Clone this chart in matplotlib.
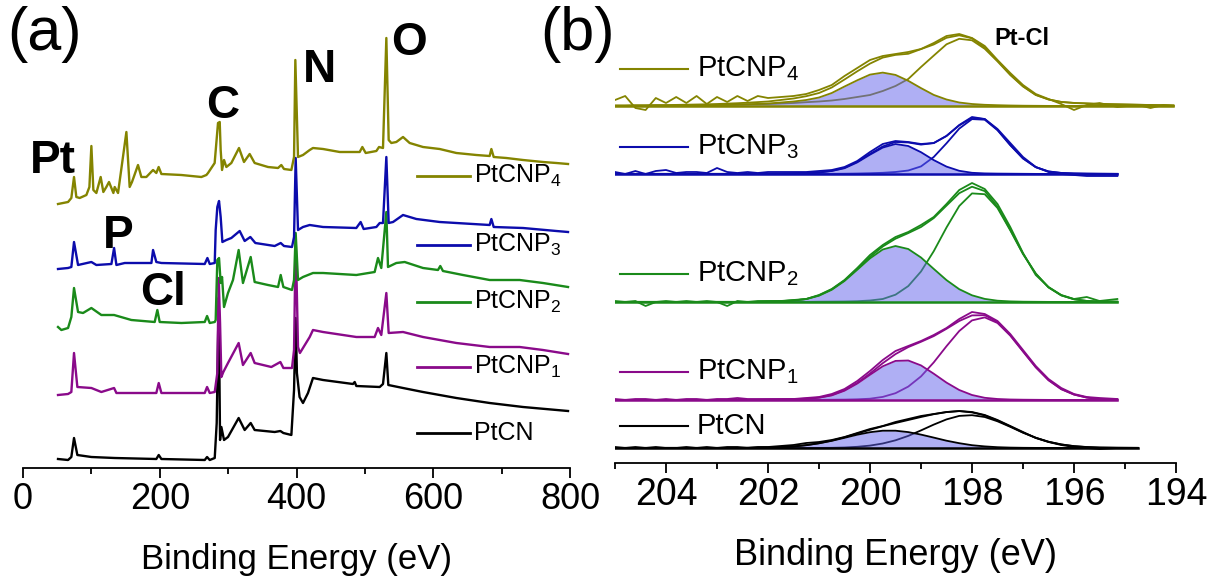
import numpy as np
import matplotlib
matplotlib.use("Agg")
import matplotlib.pyplot as plt
from matplotlib.ticker import MultipleLocator

plt.rcParams['font.family'] = ['Liberation Sans', 'DejaVu Sans']
plt.rcParams['mathtext.fontset'] = 'custom'
plt.rcParams['mathtext.rm'] = 'Liberation Sans'
plt.rcParams['mathtext.it'] = 'Liberation Sans'

# ---------------- (a) survey spectra: binding energy (eV) / intensity (a.u., stacked) ----------------
be_p4 = [51.2, 65.9, 70.7, 74.6, 78.0, 82.9, 92.7, 97.1, 100.0, 102.9, 107.3, 113.6, 117.5, 121.9, 125.8,
         132.2, 134.1, 139.0, 151.2, 156.0, 159.4, 168.2, 173.1, 180.4, 190.2, 195.0, 198.4, 202.4, 231.6,
         260.9, 268.2, 270.6, 280.3, 285.2, 287.7, 289.1, 291.1, 294.0, 297.4, 304.7, 315.9, 323.2, 331.5,
         338.8, 358.3, 373.0, 377.8, 381.7, 392.5, 396.4, 398.3, 402.2, 409.5, 419.3, 424.1, 438.8, 463.2,
         492.4, 496.3, 501.2, 516.8, 520.7, 526.5, 531.4, 534.8, 538.7, 546.0, 555.8, 565.5, 585.0, 609.4,
         633.8, 663.0, 682.5, 685.0, 688.4, 706.9, 731.3, 760.5, 780.0, 797.1]
i_p4 = [264, 266, 270, 291, 271, 270, 273, 281, 322, 278, 275, 291, 276, 281, 286,
        275, 281, 275, 336, 281, 286, 303, 291, 291, 298, 295, 301, 294, 293,
        291, 293, 295, 305, 345, 346, 318, 298, 308, 301, 305, 320, 306, 314,
        305, 301, 300, 303, 299, 298, 311, 408, 311, 313, 318, 320, 319, 316,
        316, 321, 315, 317, 321, 320, 430, 328, 325, 326, 331, 325, 321, 319,
        315, 313, 312, 319, 311, 310, 308, 306, 305, 304]

be_p3 = [51.2, 65.9, 70.7, 74.6, 80.5, 100.0, 107.3, 129.3, 133.2, 136.6, 148.8, 187.8, 190.2, 195.0, 202.4,
         265.8, 269.7, 273.1, 280.4, 281.8, 284.2, 286.7, 289.1, 291.6, 297.4, 304.7, 316.9, 324.2, 332.5,
         339.8, 368.1, 376.9, 381.7, 393.4, 396.4, 398.8, 402.2, 409.5, 419.3, 438.8, 487.5, 493.8, 498.2,
         516.8, 521.7, 526.5, 531.4, 534.8, 541.2, 555.8, 575.3, 609.4, 633.8, 682.5, 685.0, 688.4, 731.3,
         780.0, 797.1]
i_p3 = [199, 200, 201, 226, 203, 206, 203, 204, 220, 203, 205, 205, 218, 206, 205,
        204, 210, 204, 205, 238, 261, 267, 251, 226, 228, 230, 237, 227, 231,
        225, 222, 225, 222, 221, 231, 310, 238, 241, 243, 241, 240, 246, 239,
        241, 245, 245, 311, 245, 246, 253, 249, 246, 245, 243, 249, 241, 240,
        237, 236]

be_p2 = [51.2, 56.1, 65.9, 70.7, 74.6, 80.5, 87.8, 100.0, 114.6, 133.2, 158.5, 192.6, 196.5, 199.9, 231.6,
         265.8, 269.2, 273.1, 280.4, 281.8, 284.2, 286.7, 289.1, 291.1, 294.0, 299.8, 307.1, 315.4, 321.7,
         333.0, 338.8, 358.3, 373.0, 376.9, 380.8, 393.4, 396.4, 398.8, 402.2, 409.5, 424.1, 438.8, 487.5,
         514.3, 519.2, 524.0, 531.4, 533.8, 546.0, 558.2, 585.0, 606.9, 610.3, 614.2, 643.4, 682.5, 726.4,
         760.5, 797.1]
i_p2 = [141, 138, 140, 151, 180, 156, 155, 160, 153, 153, 148, 146, 158, 146, 145,
        146, 152, 145, 146, 148, 208, 210, 185, 191, 161, 175, 188, 218, 185,
        211, 186, 183, 181, 193, 181, 178, 188, 235, 188, 191, 195, 195, 193,
        196, 210, 200, 256, 201, 205, 206, 200, 198, 202, 197, 193, 188, 188,
        185, 181]

be_p1 = [51.2, 65.9, 70.7, 74.6, 79.5, 100.0, 114.6, 133.2, 136.6, 158.5, 195.0, 198.5, 202.4, 265.8, 269.2,
         273.1, 280.4, 284.2, 286.2, 288.2, 290.1, 293.0, 299.8, 315.4, 321.7, 333.0, 338.8, 363.2, 376.4,
         380.8, 393.4, 396.4, 398.8, 402.2, 405.0, 419.3, 424.1, 438.8, 487.5, 514.3, 519.2, 524.0, 531.4,
         534.8, 555.8, 585.0, 633.8, 682.5, 726.4, 760.5, 797.1]
i_p1 = [73, 74, 76, 115, 81, 80, 76, 80, 75, 75, 75, 85, 75, 75, 81,
        75, 76, 95, 190, 145, 91, 96, 105, 125, 103, 115, 105, 101, 106,
        100, 100, 118, 230, 121, 115, 131, 138, 136, 131, 131, 140, 133, 175,
        135, 136, 131, 125, 121, 121, 118, 114]

be_cn = [51.2, 65.9, 70.7, 74.6, 79.5, 100.0, 134.1, 195.0, 198.5, 202.4, 265.8, 269.2, 273.1, 280.4, 283.3,
         286.2, 288.2, 290.1, 294.0, 299.8, 315.4, 324.2, 333.0, 338.8, 368.1, 376.4, 380.8, 392.5, 396.4,
         398.8, 400.6, 404.5, 409.5, 416.8, 424.1, 438.8, 482.6, 485.1, 487.5, 521.7, 526.5, 531.4, 534.3,
         555.8, 585.0, 609.4, 633.8, 682.5, 731.3, 797.1]
i_cn = [9, 8, 11, 30, 13, 11, 10, 9, 13, 9, 8, 11, 8, 10, 45,
        170, 28, 41, 28, 31, 50, 38, 45, 38, 36, 37, 35, 33, 78,
        150, 95, 71, 65, 75, 90, 88, 84, 86, 82, 81, 84, 115, 83,
        80, 76, 73, 70, 65, 61, 57]

# ---------------- (b) Pt-Cl region: fitted components (height above baseline) ----------------
bx = [205.0, 204.8, 204.6, 204.4, 204.2, 204.0, 203.8, 203.6, 203.4, 203.2, 203.0, 202.8, 202.6, 202.4,
      202.2, 202.0, 201.75, 201.5, 201.25, 201.0, 200.75, 200.5, 200.25, 200.0, 199.75, 199.5, 199.25,
      199.0, 198.75, 198.5, 198.25, 198.0, 197.75, 197.5, 197.25, 197.0, 196.75, 196.5, 196.25, 196.0,
      195.75, 195.5, 195.15, 194.75, 194.5, 194.25, 194.05]

offsets = [357, 289, 161, 63, 15]
npts = [47, 43, 43, 43, 44]

a_p4 = [0.2, 0.2, 0.3, 0.3, 0.4, 0.4, 0.5, 0.6, 0.7, 0.8, 1.0, 1.2, 1.4, 1.7, 2.1, 2.5,
        3.5, 4.5, 6.0, 8.5, 13.0, 19.5, 25.7, 31.4, 33.4, 31.1, 25.2, 17.9, 11.1, 6.5, 3.5, 2.0, 1.2,
        0.8, 0.5, 0.3, 0.2, 0.1, 0.1, 0.1, 0.1, 0.1, 0.1, 0.1, 0.0, 0.0, 0.0]
b_p4 = [0.3, 0.3, 0.4, 0.4, 0.5, 0.5, 0.6, 0.7, 0.8, 0.9, 1.0, 1.2, 1.4, 1.6, 1.8, 2.0,
        2.5, 3.0, 3.8, 4.5, 5.5, 7.0, 9.0, 11.0, 15.0, 20.0, 27.0, 39.0, 50.4, 61.7, 67.2, 65.7, 57.2,
        44.6, 31.0, 19.5, 11.0, 6.5, 4.0, 3.0, 2.5, 2.0, 1.6, 1.2, 1.0, 0.8, 0.6]
r_p4 = [6, 10, -2, -4, 8, 3, 9, 3, 10, 2, 9, 4, 10, 5, 10, 8,
        9, 10, 12, 16, 21, 30, 38, 46, 50, 52, 54, 57, 63, 70, 72, 68, 60, 46, 33, 21, 12, 7, 2, -4,
        1, 3, -1, 1, -2, 1, 0]

a_p3 = [0.1] * 15 + [0.3,
        0.4, 0.6, 1.0, 1.5, 3.0, 5.8, 11.6, 19.3, 26.4, 30.0, 28.0, 21.8, 13.9, 7.4, 3.2, 1.2, 0.6,
        0.4, 0.3, 0.2, 0.1, 0.1, 0.1, 0.1, 0.1, 0.1, 0.1, 0.1, 0.0, 0.0, 0.0]
b_p3 = [0.1] * 20 + [0.2, 0.3, 0.5, 0.8, 1.2, 2.0, 3.5, 7.6, 17.0, 30.7, 45.4, 54.9, 54.3, 43.8,
        28.8, 15.5, 6.8, 2.5, 1.0, 0.5, 0.3, 0.2, 0.1, 0.1, 0.0, 0.0, 0.0]
r_p3 = [2, 0, 3, 0, 3, 4, 1, 2, 2, 1, 6, 2, 1, 2, 1, 2,
        2, 2, 2, 3, 4, 7, 13, 22, 30, 33, 32, 30, 31, 38, 49, 57, 55, 45, 31, 17, 7, 2, 0, -1, -2, -2, -2]

a_p2 = [0.1] * 15 + [0.5,
        0.8, 1.5, 2.9, 6.3, 12.2, 21.0, 32.2, 43.6, 52.5, 56.0, 53.0, 44.5, 33.1, 21.9, 12.8, 6.7, 3.1,
        1.3, 0.6, 0.3, 0.2, 0.1, 0.1, 0.1, 0.1, 0.1, 0.1, 0.1, 0.0, 0.0, 0.0]
b_p2 = [0.1] * 19 + [0.3, 0.4, 0.5, 0.8, 1.5, 3.0, 7.3, 15.9, 30.5, 50.8, 74.5, 96.0, 108.6, 107.8,
        94.0, 71.7, 48.0, 28.3, 14.6, 6.6, 2.7, 1.0, 0.5, 0.3, 0.1, 0.0, 0.0, 0.0]
r_p2 = [1, 0, 1, -4, 0, 1, 0, 1, 0, 1, 0, -4, 1, 0, 1, 1,
        1, 2, 3, 7, 13, 22, 34, 47, 57, 65, 70, 77, 85, 98, 112, 119, 113, 98, 75, 49, 27, 15, 7, 3, 5, 1, 3]

a_p1 = [0.1] * 15 + [0.3,
        0.5, 0.8, 1.2, 2.3, 4.6, 9.3, 16.4, 25.2, 33.7, 39.1, 39.5, 34.6, 26.3, 17.4, 10.0, 5.0, 2.2,
        1.0, 0.5, 0.3, 0.2, 0.1, 0.1, 0.1, 0.1, 0.1, 0.1, 0.1, 0.0, 0.0, 0.0]
b_p1 = [0.1] * 20 + [0.3, 0.4, 0.7, 1.3, 3.1, 6.8, 13.4, 23.6, 37.6, 53.8, 69.0, 79.6, 82.6, 77.0,
        64.4, 48.5, 32.7, 19.8, 10.8, 5.4, 2.4, 1.0, 0.4, 0.2, 0.1, 0.0, 0.0]
r_p1 = [1, 0, 1, 1, 0, 1, 0, 1, 1, 0, 1, 1, 2, 1, 1, 1,
        1, 1, 2, 3, 6, 11, 19, 29, 40, 49, 54, 59, 65, 72, 81, 88, 86, 79, 66, 50, 34, 21, 12, 6, 3, 2, 1]

a_cn = [0.1] * 13 + [0.2, 0.3, 0.5,
        0.9, 1.5, 2.8, 4.7, 7.2, 10.2, 13.3, 15.8, 17.3, 17.3, 15.9, 13.4, 10.4, 7.3, 4.8, 2.8, 1.6,
        0.8, 0.4, 0.2, 0.1, 0.1, 0.1, 0.1, 0.1, 0.1, 0.1, 0.1, 0.0, 0.0, 0.0]
b_cn = [0.1] * 20 + [0.2, 0.5, 1.2, 2.4, 4.5, 7.7, 12.1, 17.6, 23.4, 28.6, 32.1, 32.8, 31.0, 26.7,
        21.2, 15.3, 10.2, 6.2, 3.5, 1.8, 0.9, 0.4, 0.2, 0.1, 0.0, 0.0, 0.0]
r_cn = [1, 0, 1, 0, 1, 0, 0, 1, 0, 1, 0, 1, 1, 0, 1, 1,
        2, 3, 5, 6, 8, 11, 15, 19, 22, 26, 29, 32, 34, 36, 37, 36, 33, 28, 22, 16, 10, 6, 3, 1, 0, -1, 0, 0]

names = ['PtCNP$_4$', 'PtCNP$_3$', 'PtCNP$_2$', 'PtCNP$_1$', 'PtCN']
colors = ['#848400', '#0c0cac', '#1a8a1a', '#8a0a8a', '#000000']

# label heights (same units as the stacked intensities)
lab_a = [292, 223, 166, 101, 35]
lab_b = [394, 316, 189, 91, 37]

fig = plt.figure(figsize=(12.11, 5.81), dpi=100)
ax1 = fig.add_axes([23 / 1211, 113 / 581, 547 / 1211, 468 / 581])
ax2 = fig.add_axes([615 / 1211, 118 / 581, 561 / 1211, 463 / 581])

for ax in (ax1, ax2):
    for s in ('left', 'right', 'top'):
        ax.spines[s].set_visible(False)
    ax.spines['bottom'].set_linewidth(1.3)
    ax.set_yticks([])
    ax.tick_params(axis='x', which='major', direction='out', length=7, width=1.3, pad=3)
    ax.tick_params(axis='x', which='minor', direction='out', length=4, width=1.3)
    ax.patch.set_alpha(0)

# ---- panel (a)
spectra = [(be_cn, i_cn), (be_p1, i_p1), (be_p2, i_p2), (be_p3, i_p3), (be_p4, i_p4)]
for (be, inten), c in zip(spectra, colors[::-1]):
    ax1.plot(be, inten, color=c, lw=1.7, solid_joinstyle='round')

ax1.set_xlim(0, 800)
ax1.set_ylim(0, 468)
ax1.xaxis.set_major_locator(MultipleLocator(200))
ax1.xaxis.set_minor_locator(MultipleLocator(100))
ax1.tick_params(axis='x', labelsize=26)
ax1.set_xlabel('Binding Energy (eV)', fontsize=25, labelpad=19)

for nm, c, y in zip(names, colors, lab_a):
    ax1.plot([0.72, 0.817], [y / 468, y / 468], transform=ax1.transAxes, color=c, lw=2)
    ax1.text(0.824, y / 468, nm, transform=ax1.transAxes, fontsize=18, va='center', ha='left')

for txt, xb, yb in [('Pt', 10, 295), ('P', 117, 220), ('Cl', 171, 163), ('C', 268, 350),
                    ('N', 410, 386), ('O', 539, 413)]:
    ax1.text(xb, yb, txt, fontsize=33, fontweight='bold', va='baseline', ha='left')

# ---- panel (b)
bx = np.array(bx)
comps = [(a_p4, b_p4, r_p4), (a_p3, b_p3, r_p3), (a_p2, b_p2, r_p2), (a_p1, b_p1, r_p1), (a_cn, b_cn, r_cn)]
for (a, b, r), off, n, c in zip(comps, offsets, npts, colors):
    x = bx[:n]
    a = np.array(a[:n])
    b = np.array(b[:n])
    r = np.array(r[:n])
    ax2.plot(x, off + b, color=c, lw=1.3, zorder=2)
    ax2.fill_between(x, off, off + a, color='#6161eb', alpha=0.5, lw=0, zorder=3)
    ax2.plot(x, off + a, color=c, lw=1.3, zorder=4)
    ax2.plot(x, off + a + b, color=c, lw=1.3, zorder=4)
    ax2.plot(x, off + r, color=c, lw=1.3, zorder=4)
    ax2.plot([x[0], x[-1]], [off, off], color=c, lw=1.8, zorder=4)

ax2.set_xlim(205, 194)
ax2.set_ylim(0, 463)
ax2.xaxis.set_major_locator(MultipleLocator(2))
ax2.xaxis.set_minor_locator(MultipleLocator(1))
ax2.tick_params(axis='x', labelsize=27)
ax2.set_xlabel('Binding Energy (eV)', fontsize=26, labelpad=18)

for nm, c, y in zip(names, colors, lab_b):
    ax2.plot([0.009, 0.13], [y / 463, y / 463], transform=ax2.transAxes, color=c, lw=1.5)
    ax2.text(0.146, y / 463, nm, transform=ax2.transAxes, fontsize=21, va='center', ha='left')

ax2.text(197.56, 418, 'Pt-Cl', fontsize=17, fontweight='bold', va='baseline', ha='left')

fig.text(7 / 1211, 1 - 6 / 581, '(a)', fontsize=44, va='top', ha='left')
fig.text(540 / 1211, 1 - 6 / 581, '(b)', fontsize=44, va='top', ha='left')

fig.savefig('out.png', dpi=100)
